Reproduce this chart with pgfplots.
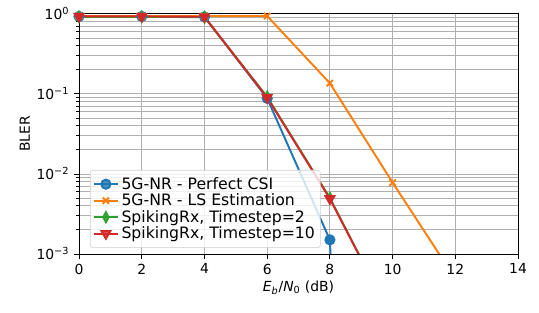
\documentclass[border=0pt]{standalone}
\usepackage{fontspec}
\setmainfont{DejaVu Sans}
\usepackage{pgfplots}
\pgfplotsset{compat=1.18}
\definecolor{tblue}{HTML}{1F77B4}
\definecolor{torange}{HTML}{FF7F0E}
\definecolor{tgreen}{HTML}{2CA02C}
\definecolor{tred}{HTML}{D62728}
\definecolor{gridc}{HTML}{B0B0B0}
\begin{document}
\begin{tikzpicture}
\useasboundingbox (-56.9pt,-42.5pt) rectangle (331.1pt,182.8pt);
\begin{axis}[
  scale only axis, width=316pt, height=172.8pt,
  ymode=log, xmin=0, xmax=14, ymin=1e-3, ymax=1,
  xtick={0,2,...,14},
  ytick={1e-3,1e-2,1e-1,1},
  yticklabels={10\textsuperscript{−3},10\textsuperscript{−2},10\textsuperscript{−1},10\textsuperscript{0}},
  /pgf/number format/assume math mode=true,
  tick pos=left, tick align=outside,
  major tick length=3.5pt, minor tick length=2pt,
  every tick/.style={black, line width=0.6pt},
  grid=both,
  major grid style={gridc, line width=0.6pt},
  minor grid style={gridc, line width=0.6pt},
  axis line style={line width=0.6pt},
  tick label style={font=\fontsize{10}{12}\selectfont},
  label style={font=\fontsize{10}{12}\selectfont},
  xlabel={\textit{E}\textsubscript{\textit{b}}/\textit{N}\textsubscript{0} (dB)},
  ylabel={BLER},
  xlabel style={yshift=2pt},
  ylabel style={yshift=-2pt},
  clip=true,
  legend style={at={(0.025,0.025)}, anchor=south west, draw=black!20, rounded corners=2pt,
    fill=white, fill opacity=0.8, text opacity=1, font=\fontsize{11.3}{13}\selectfont,
    inner xsep=2pt, inner ysep=3pt, row sep=-2.2pt},
  legend cell align=left,
  every axis plot/.append style={line width=1.4pt},
]
\addplot[tblue, mark=*, mark size=3.3pt] coordinates {(0,0.93) (2,0.93) (4,0.92) (6,0.088) (8,0.0015) (10,1e-20)};
\addlegendentry{5G-NR - Perfect CSI}
\addplot[torange, mark=x, mark size=3.2pt] coordinates {(0,0.94) (2,0.94) (4,0.94) (6,0.94) (8,0.136) (10,0.0078) (12,0.00049)};
\addlegendentry{5G-NR - LS Estimation}
\addplot[tgreen, mark=diamond*, mark size=3.6pt, mark options={xscale=0.7}] coordinates {(0,0.92) (2,0.92) (4,0.91) (6,0.092) (8,0.0050) (10,0.00015)};
\addlegendentry{SpikingRx, Timestep=2}
\addplot[tred, mark=triangle*, mark size=3.6pt, mark options={rotate=180}] coordinates {(0,0.93) (2,0.93) (4,0.92) (6,0.09) (8,0.0049) (10,0.00015)};
\addlegendentry{SpikingRx, Timestep=10}
\end{axis}
\end{tikzpicture}
\end{document}
